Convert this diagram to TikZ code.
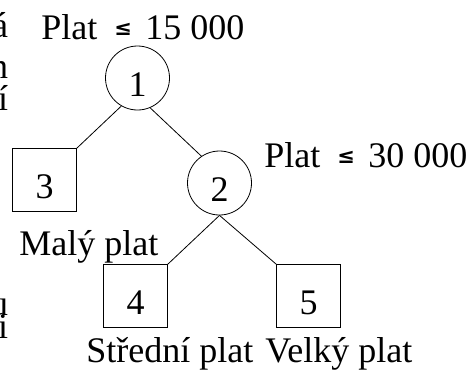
\documentclass[tikz,border=0pt]{standalone}
\usepackage{fontspec}
\setmainfont{Liberation Serif}
\newfontfamily\leqfont{DejaVu Sans}
\newcommand{\leqsign}{\raisebox{4bp}{\leqfont\fontsize{21bp}{21bp}\selectfont\bfseries ≤}}
\begin{document}
\begin{tikzpicture}[x=1bp,y=-1bp,line width=0.8bp,
  knot/.style={draw,circle,minimum size=64bp,inner sep=0pt,text height=1em,text depth=0pt},
  leaf/.style={draw,rectangle,minimum width=64bp,minimum height=63bp,inner sep=0pt,text height=1em,text depth=0pt},
  txt/.style={anchor=base west,inner sep=0pt}]
\fontsize{36bp}{43bp}\selectfont
\useasboundingbox (0,0) rectangle (472,372);
% tree
\node [knot] (c1) at (137.5,78) {1};
\node [leaf] (b3) at (44.5,180) {3};
\node [knot] (c2) at (219.5,183) {2};
\node [leaf] (b4) at (135.5,296) {4};
\node [leaf] (b5) at (308.5,296) {5};
\draw (c1.240) -- (b3.north east);
\draw (c1.293) -- (c2.124);
\draw (c2.south) -- (b4.north east);
\draw (c2.south) -- (b5.north west);
% labels
\node [txt] (t1) at (41,39) {Plat\hspace{17bp}\leqsign\hspace{13.4bp}15 000};
\node [txt] (t2) at (264,167) {Plat\hspace{17bp}\leqsign\hspace{13.4bp}30 000};
\node [txt] (t3) at (19,255) {Malý plat};
\node [txt] (t4) at (86,362) {Střední plat};
\node [txt] (t5) at (265,362) {Velký plat};
% cut text at the left edge
\node [anchor=base east,inner sep=0pt] (e1) at (8.5,37) {á};
\node [anchor=base east,inner sep=0pt] (e2) at (8.5,78) {n};
\node [anchor=base east,inner sep=0pt] (e3) at (8.5,110) {í};
\node [anchor=base east,inner sep=0pt] (e4) at (8.5,315) {u};
\node [anchor=base east,inner sep=0pt] (e5) at (8.5,338) {i};
\end{tikzpicture}
\end{document}
